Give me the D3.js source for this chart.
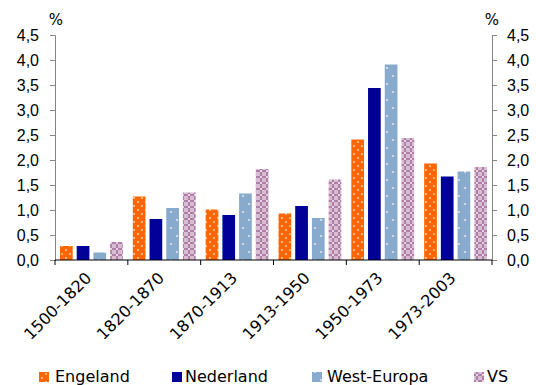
<!DOCTYPE html>
<html>
<head>
<meta charset="utf-8">
<script src="https://cdn.jsdelivr.net/npm/d3@7"></script>
<style>
  body { margin: 0; background: #fff; }
  svg { font-family: "DejaVu Sans", Verdana, sans-serif; }
  .axis text { font-size: 16px; fill: #000; }
</style>
</head>
<body>
<div id="chart"></div>
<script>
// data
let periods = ['1500-1820', '1820-1870', '1870-1913', '1913-1950', '1950-1973', '1973-2003']
let seriesNames = ['Engeland', 'Nederland', 'West-Europa', 'VS']
let engeland = [0.28, 1.27, 1.01, 0.93, 2.41, 1.93]
let nederland = [0.28, 0.82, 0.90, 1.08, 3.44, 1.67]
let westEuropa = [0.15, 1.04, 1.33, 0.84, 3.91, 1.77]
let vs = [0.36, 1.35, 1.82, 1.61, 2.44, 1.86]
let yTicks = [0, 0.5, 1, 1.5, 2, 2.5, 3, 3.5, 4, 4.5]

let allSeries = [engeland, nederland, westEuropa, vs]
let fills = ['url(#patEng)', '#000099', 'url(#patWE)', 'url(#patVS)']

let width = 536
let height = 385
let margin = { top: 35, right: 44, bottom: 125, left: 55 }

let svg = d3.select('#chart')
    .append('svg')
    .attr('width', width)
    .attr('height', height)

addPatterns(svg)

let xScale = d3.scaleBand()
    .domain(periods)
    .range([margin.left, width - margin.right])

let inner = d3.scaleBand()
    .domain(seriesNames)
    .range([5, xScale.bandwidth() - 5])
    .paddingInner(0.24)

let yScale = d3.scaleLinear()
    .domain([0, 4.5])
    .range([height - margin.bottom, margin.top])

let fmt = d => d3.format('.1f')(d).replace('.', ',')

// bars
seriesNames.forEach((name, i) => {
    svg.append('g')
        .selectAll('rect')
        .data(allSeries[i])
        .join('rect')
        .attr('x', (d, j) => xScale(periods[j]) + inner(name))
        .attr('y', d => yScale(d))
        .attr('width', inner.bandwidth())
        .attr('height', d => yScale(0) - yScale(d))
        .attr('fill', fills[i])
})

// y axes
let yAxisLeft = d3.axisLeft(yScale).tickValues(yTicks).tickFormat(fmt).tickSize(5).tickPadding(11)
let yAxisRight = d3.axisRight(yScale).tickValues(yTicks).tickFormat(fmt).tickSize(5).tickPadding(10)

let leftEl = svg.append('g')
    .attr('class', 'axis')
    .attr('transform', `translate(${margin.left},0)`)
    .call(yAxisLeft)

let rightEl = svg.append('g')
    .attr('class', 'axis')
    .attr('transform', `translate(${width - margin.right},0)`)
    .call(yAxisRight)

for (let el of [leftEl, rightEl]) {
    el.select('.domain').attr('stroke', '#868686')
    el.selectAll('.tick line').attr('stroke', '#868686')
}

// x axis
let xAxisEl = svg.append('g')
    .attr('transform', `translate(0,${yScale(0)})`)

xAxisEl.append('line')
    .attr('x1', margin.left)
    .attr('x2', width - margin.right)
    .attr('stroke', '#000')

xAxisEl.selectAll('.tk')
    .data(periods.concat(['end']))
    .join('line')
    .attr('class', 'tk')
    .attr('x1', d => d === 'end' ? width - margin.right : xScale(d))
    .attr('x2', d => d === 'end' ? width - margin.right : xScale(d))
    .attr('y1', 0)
    .attr('y2', 5)
    .attr('stroke', '#000')

xAxisEl.selectAll('text')
    .data(periods)
    .join('text')
    .attr('transform', d => `translate(${xScale(d) + xScale.bandwidth() / 2 + 1},${19}) rotate(-45)`)
    .attr('text-anchor', 'end')
    .attr('font-size', 16)
    .text(d => d)

// % labels
svg.append('text').attr('x', 56).attr('y', 25).attr('text-anchor', 'middle')
    .attr('font-size', 15).text('%')
svg.append('text').attr('x', 492).attr('y', 25).attr('text-anchor', 'middle')
    .attr('font-size', 15).text('%')

// legend
let legendX = [39, 172, 312, 474]
let legendTextX = [55, 185, 327, 487]
let legend = svg.append('g')
seriesNames.forEach((name, i) => {
    legend.append('rect')
        .attr('x', legendX[i])
        .attr('y', 372)
        .attr('width', 10)
        .attr('height', 10)
        .attr('fill', fills[i])
    legend.append('text')
        .attr('x', legendTextX[i])
        .attr('y', 382)
        .attr('font-size', 16)
        .text(name)
})

function addPatterns(svg) {
    let defs = svg.append('defs')

    let eng = defs.append('pattern')
        .attr('id', 'patEng')
        .attr('patternUnits', 'userSpaceOnUse')
        .attr('width', 8).attr('height', 8)
    eng.append('rect').attr('width', 8).attr('height', 8).attr('fill', '#FF6600')
    eng.append('circle').attr('cx', 2).attr('cy', 2).attr('r', 0.9).attr('fill', '#ffd9bf')
    eng.append('circle').attr('cx', 6).attr('cy', 6).attr('r', 0.9).attr('fill', '#ffd9bf')

    let we = defs.append('pattern')
        .attr('id', 'patWE')
        .attr('patternUnits', 'userSpaceOnUse')
        .attr('width', 12).attr('height', 16)
    we.append('rect').attr('width', 12).attr('height', 16).attr('fill', '#88AACC')
    we.append('circle').attr('cx', 3).attr('cy', 4).attr('r', 0.9).attr('fill', '#f0f5fa')
    we.append('circle').attr('cx', 9).attr('cy', 12).attr('r', 0.9).attr('fill', '#f0f5fa')

    let us = defs.append('pattern')
        .attr('id', 'patVS')
        .attr('patternUnits', 'userSpaceOnUse')
        .attr('width', 6).attr('height', 6)
    us.append('rect').attr('width', 6).attr('height', 6).attr('fill', '#d8bcd2')
    us.append('rect').attr('x', 2).attr('y', 0).attr('width', 2).attr('height', 6).attr('fill', '#b07fa8')
    us.append('rect').attr('x', 0).attr('y', 2).attr('width', 6).attr('height', 2).attr('fill', '#b07fa8')
    us.append('rect').attr('x', 2).attr('y', 2).attr('width', 2).attr('height', 2).attr('fill', '#e6d4e2')
}
</script>
</body>
</html>
